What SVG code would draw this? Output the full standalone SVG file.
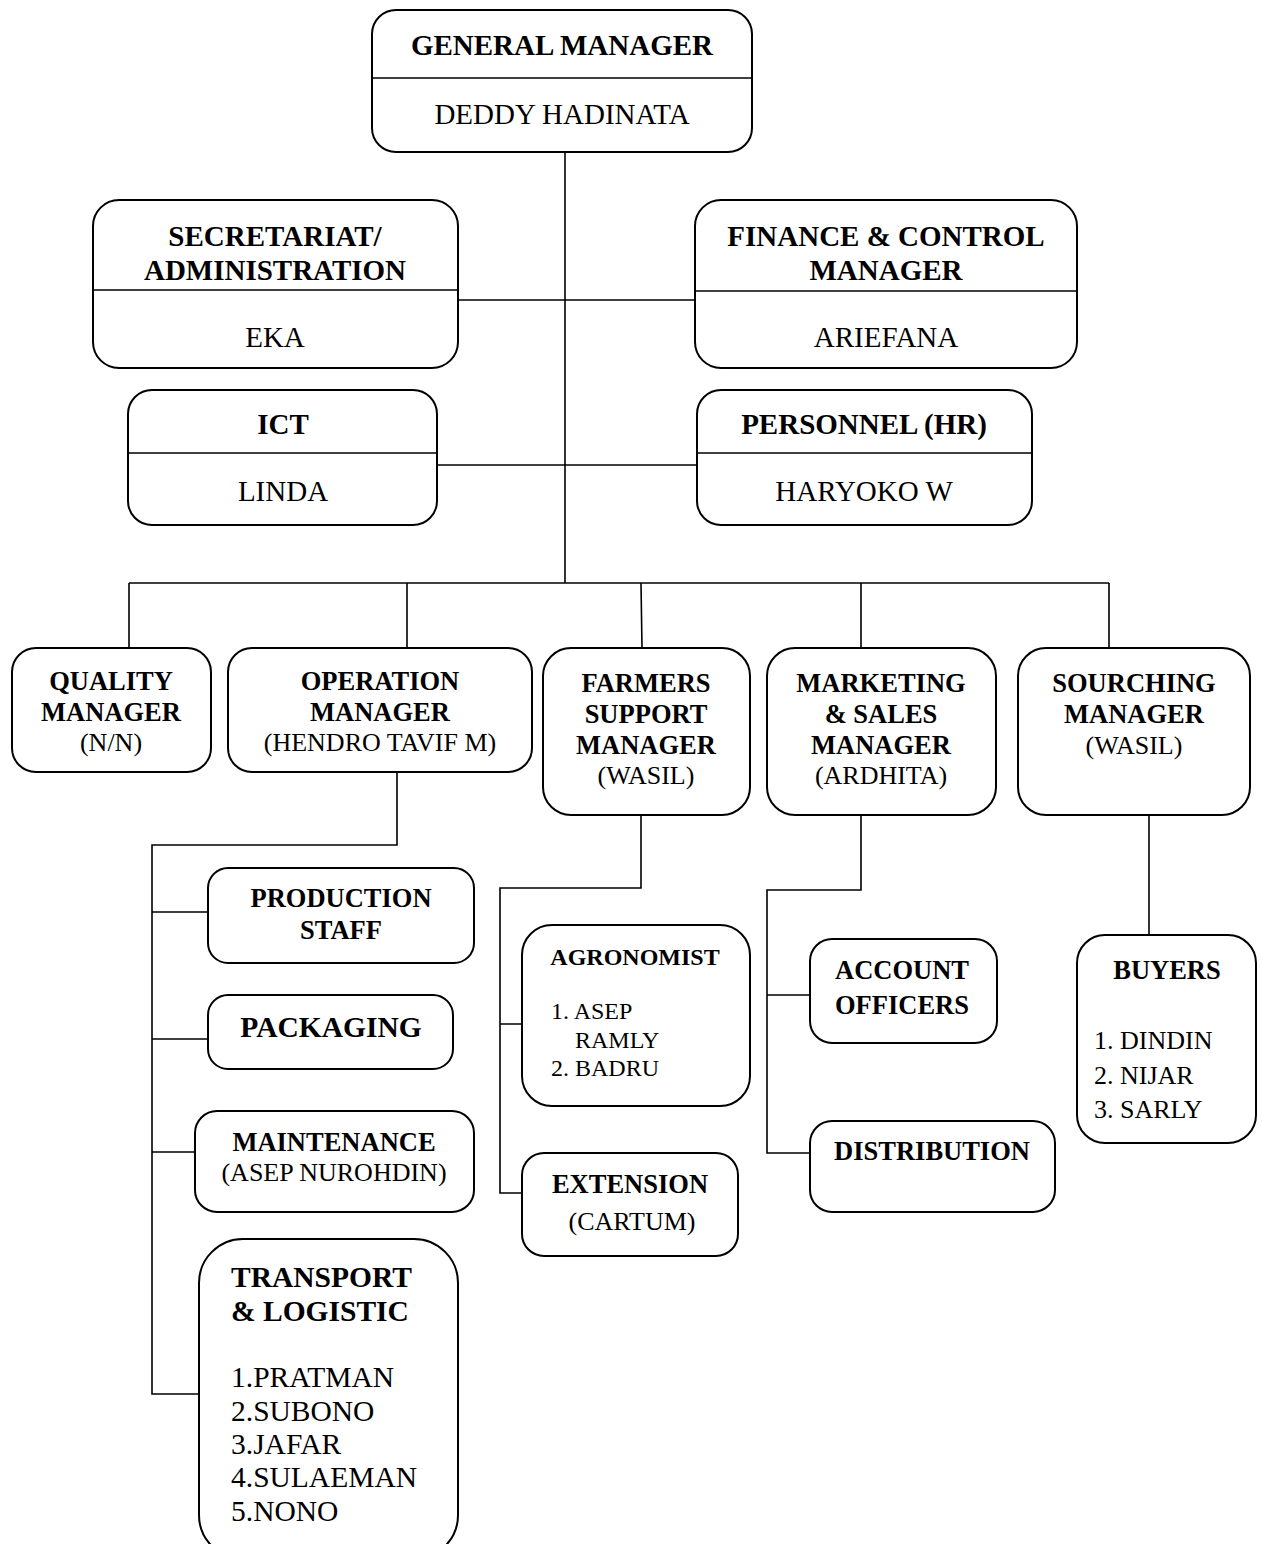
<svg xmlns="http://www.w3.org/2000/svg" width="1262" height="1544" viewBox="0 0 1262 1544">
<style>
.box{fill:#fff;stroke:#000;stroke-width:2}
.div{stroke:#000;stroke-width:1.5}
.c{fill:none;stroke:#000;stroke-width:1.6}
text{font-family:"Liberation Serif","Times New Roman",serif;fill:#000}
.b{font-weight:bold}
.m{text-anchor:middle}
.t{font-size:29px}
.r{font-size:26.5px}
.n{font-size:26px}
.s{font-size:24px}
.p{font-size:29.5px}
</style>
<rect width="1262" height="1544" fill="#fff"/>
<g id="connectors">
<path class="c" d="M565 152V583"/>
<path class="c" d="M458 300H695"/>
<path class="c" d="M437 465H697"/>
<path class="c" d="M129 583H1109"/>
<path class="c" d="M129 583V648M407 583V648M641 583L642 648M861 583V648M1109 583V648"/>
<path class="c" d="M397 772V845H152V1394H199M152 912H208M152 1039H208M152 1152H195"/>
<path class="c" d="M641 815V888H500V1193H522M500 1024H522"/>
<path class="c" d="M861 815V890H767V1153H810M767 995H810"/>
<path class="c" d="M1149 815V935"/>
</g>
<g id="gm"><rect class="box" x="372" y="10" width="380" height="142" rx="24"/><line class="div" x1="372" y1="78" x2="752" y2="78"/>
<text class="b m t" x="562" y="55">GENERAL MANAGER</text><text class="m t" x="562" y="124">DEDDY HADINATA</text></g>
<g id="secretariat"><rect class="box" x="93" y="200" width="365" height="168" rx="26"/><line class="div" x1="93" y1="290" x2="458" y2="290"/>
<text class="b m t" x="275" y="246">SECRETARIAT/</text><text class="b m t" x="275" y="280">ADMINISTRATION</text><text class="m t" x="275" y="347">EKA</text></g>
<g id="finance"><rect class="box" x="695" y="200" width="382" height="168" rx="26"/><line class="div" x1="695" y1="291" x2="1077" y2="291"/>
<text class="b m t" x="886" y="246">FINANCE &amp; CONTROL</text><text class="b m t" x="886" y="280">MANAGER</text><text class="m t" x="886" y="347">ARIEFANA</text></g>
<g id="ict"><rect class="box" x="128" y="390" width="309" height="135" rx="24"/><line class="div" x1="128" y1="453" x2="437" y2="453"/>
<text class="b m t" x="283" y="434">ICT</text><text class="m t" x="283" y="501">LINDA</text></g>
<g id="personnel"><rect class="box" x="697" y="390" width="335" height="135" rx="24"/><line class="div" x1="697" y1="453" x2="1032" y2="453"/>
<text class="b m t" x="864" y="434">PERSONNEL (HR)</text><text class="m t" x="864" y="501">HARYOKO W</text></g>
<g id="quality"><rect class="box" x="12" y="648" width="199" height="124" rx="24"/>
<text class="b m r" x="111" y="690">QUALITY</text><text class="b m r" x="111" y="721">MANAGER</text><text class="m n" x="111" y="751">(N/N)</text></g>
<g id="operation"><rect class="box" x="228" y="648" width="304" height="124" rx="24"/>
<text class="b m r" x="380" y="690">OPERATION</text><text class="b m r" x="380" y="721">MANAGER</text><text class="m n" x="380" y="751">(HENDRO TAVIF M)</text></g>
<g id="farmers"><rect class="box" x="543" y="648" width="207" height="167" rx="28"/>
<text class="b m r" x="646" y="692">FARMERS</text><text class="b m r" x="646" y="723">SUPPORT</text><text class="b m r" x="646" y="754">MANAGER</text><text class="m n" x="646" y="784">(WASIL)</text></g>
<g id="marketing"><rect class="box" x="767" y="648" width="229" height="167" rx="28"/>
<text class="b m r" x="881" y="692">MARKETING</text><text class="b m r" x="881" y="723">&amp; SALES</text><text class="b m r" x="881" y="754">MANAGER</text><text class="m n" x="881" y="784">(ARDHITA)</text></g>
<g id="sourcing"><rect class="box" x="1018" y="648" width="232" height="167" rx="28"/>
<text class="b m r" x="1134" y="692">SOURCHING</text><text class="b m r" x="1134" y="723">MANAGER</text><text class="m n" x="1134" y="754">(WASIL)</text></g>
<g id="production"><rect class="box" x="208" y="868" width="266" height="95" rx="20"/>
<text class="b m r" x="341" y="907">PRODUCTION</text><text class="b m r" x="341" y="939">STAFF</text></g>
<g id="packaging"><rect class="box" x="208" y="995" width="245" height="74" rx="20"/>
<text class="b m p" x="331" y="1037">PACKAGING</text></g>
<g id="maintenance"><rect class="box" x="195" y="1111" width="279" height="101" rx="22"/>
<text class="b m r" x="334" y="1151">MAINTENANCE</text><text class="m n" x="334" y="1181">(ASEP NUROHDIN)</text></g>
<g id="transport"><rect class="box" x="199" y="1239" width="259" height="320" rx="44"/>
<text class="b p" x="231" y="1287">TRANSPORT</text><text class="b p" x="231" y="1321">&amp; LOGISTIC</text>
<text class="p" x="231" y="1387">1.PRATMAN</text><text class="p" x="231" y="1421">2.SUBONO</text><text class="p" x="231" y="1454">3.JAFAR</text><text class="p" x="231" y="1487">4.SULAEMAN</text><text class="p" x="231" y="1521">5.NONO</text></g>
<g id="agronomist"><rect class="box" x="522" y="925" width="228" height="181" rx="30"/>
<text class="b m s" x="635" y="965">AGRONOMIST</text>
<text class="s" x="551" y="1019">1. ASEP</text><text class="s" x="575" y="1048">RAMLY</text><text class="s" x="551" y="1076">2. BADRU</text></g>
<g id="extension"><rect class="box" x="522" y="1153" width="216" height="103" rx="22"/>
<text class="b m r" x="630" y="1193">EXTENSION</text><text class="m n" x="632" y="1230">(CARTUM)</text></g>
<g id="account"><rect class="box" x="810" y="939" width="187" height="104" rx="22"/>
<text class="b m r" x="902" y="979">ACCOUNT</text><text class="b m r" x="902" y="1014">OFFICERS</text></g>
<g id="distribution"><rect class="box" x="810" y="1121" width="245" height="91" rx="22"/>
<text class="b m r" x="932" y="1160">DISTRIBUTION</text></g>
<g id="buyers"><rect class="box" x="1077" y="935" width="179" height="208" rx="28"/>
<text class="b m r" x="1167" y="979">BUYERS</text>
<text class="n" x="1094" y="1049">1. DINDIN</text><text class="n" x="1094" y="1084">2. NIJAR</text><text class="n" x="1094" y="1118">3. SARLY</text></g>
</svg>
